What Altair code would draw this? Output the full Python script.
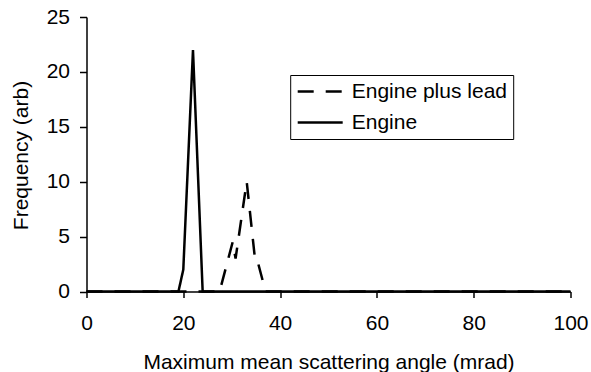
import altair as alt
import pandas as pd

# Engine (solid)
engine_x = [0, 19, 20, 22, 24, 100]
engine_y = [0, 0, 2, 22, 0, 0]
# Engine plus lead (dashed)
lead_x = [0, 27.5, 30.2, 30.8, 33.1, 34.8, 35.2, 37, 100]
lead_y = [0, 0, 4.5, 3, 10, 3, 3, 0, 0]

series_names = ["Engine plus lead", "Engine"]
x_ticks = [0, 20, 40, 60, 80, 100]
y_ticks = [0, 5, 10, 15, 20, 25]

rows = []
for i, (x, y) in enumerate(zip(lead_x, lead_y)):
    rows.append({"series": series_names[0], "x": x, "y": y, "o": i})
for i, (x, y) in enumerate(zip(engine_x, engine_y)):
    rows.append({"series": series_names[1], "x": x, "y": y, "o": i})
df = pd.DataFrame(rows)

FONT = "Liberation Sans"

chart = alt.Chart(df).mark_line(color="black", strokeWidth=2.5).encode(
    x=alt.X("x:Q",
            scale=alt.Scale(domain=[0, 100], nice=False, zero=False),
            axis=alt.Axis(values=x_ticks, title="Maximum mean scattering angle (mrad)",
                          grid=False, tickSize=6, labelPadding=15, labelFlush=False,
                          titleY=77, titleBaseline="alphabetic")),
    y=alt.Y("y:Q",
            scale=alt.Scale(domain=[0, 25], nice=False),
            axis=alt.Axis(values=y_ticks, title="Frequency (arb)", grid=False,
                          tickSize=7, labelPadding=10, labelFlush=False,
                          titleX=-65, titleY=138, titleBaseline="middle",
                          titleAlign="center", titleAngle=270)),
    strokeDash=alt.StrokeDash("series:N",
                              scale=alt.Scale(domain=series_names, range=[[16, 12], [1, 0]]),
                              legend=alt.Legend(title=None, orient="none", legendX=203.7, legendY=58,
                                                strokeColor="black", padding=6, fillColor="white",
                                                symbolType="M-4.5,0H4.5", symbolSize=100,
                                                symbolStrokeWidth=2.5, symbolStrokeColor="black",
                                                symbolFillColor="transparent",
                                                symbolOffset=13.5,
                                                labelFontSize=21, labelFont=FONT, labelColor="black",
                                                labelOffset=21, rowPadding=9)),
    order="o:Q",
).properties(
    width=484, height=274.5,
    background="white",
    autosize=alt.AutoSizeParams(type="none"),
    padding={"left": 86.5, "top": 17, "right": 20.5, "bottom": 80.5},
).configure_axis(
    domainColor="black", domainWidth=1.5, tickColor="black", tickWidth=1.5,
    labelFont=FONT, labelFontSize=21, labelColor="black",
    titleFont=FONT, titleFontSize=21, titleColor="black", titleFontWeight="normal",
).configure_view(stroke="transparent")

chart.save("out.html", embed_options={"renderer": "svg", "actions": False})
